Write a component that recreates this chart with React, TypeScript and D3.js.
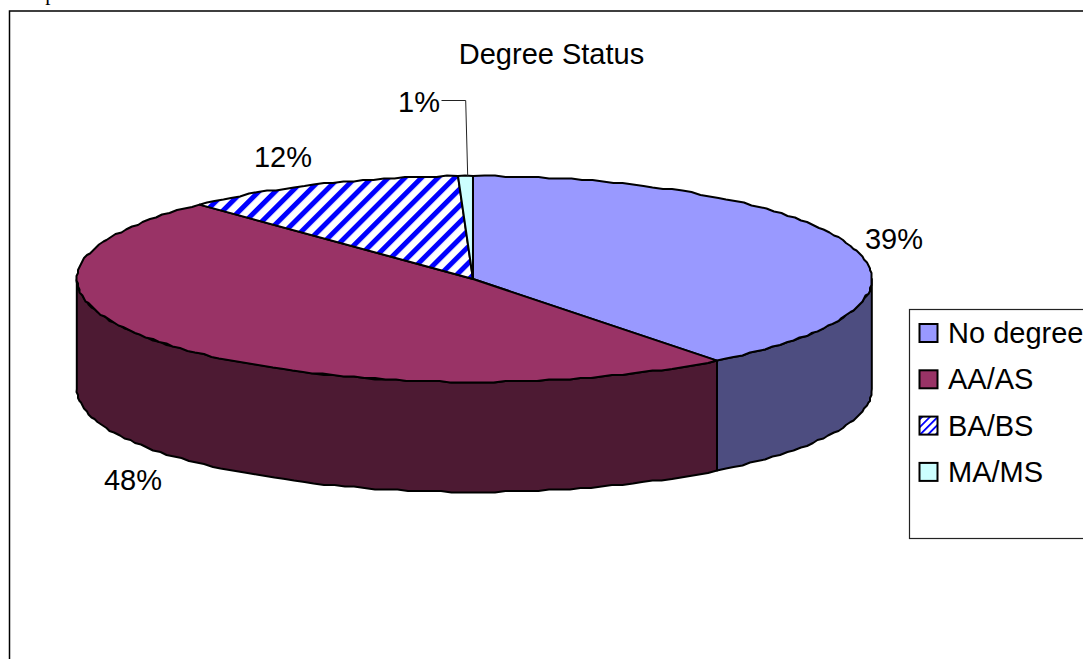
import React from "react";
import * as d3 from "d3";

const categories = ["No degree", "AA/AS", "BA/BS", "MA/MS"];
const shareValues = [39.6, 48.3, 11.5, 0.6];
const shareLabels = ["39%", "48%", "12%", "1%"];
const topColors = ["#9999ff", "#993366", "url(#stripes)", "#ccffff"];
const sideColors = ["#4d4d80", "#4d1a33", "#ffffff", "#668080"];
const labelSpots = [
  [894, 249],
  [133, 490],
  [283, 167],
  [419, 112],
];

const W = 1083, H = 659;
const cx = 474.3, cy = 279, rx = 397.5, ry = 103, depth = 110;
const tipX = 473;

const px = (a: number) => cx + rx * Math.sin(a);
const py = (a: number) => cy - ry * Math.cos(a);

// The reference's rim is a slightly scalloped polyline.
const snap = (v: number, step: number) => Math.round(v / step) * step;

function arcPoints(a0: number, a1: number, dy = 0): [number, number][] {
  const n = Math.max(2, Math.ceil(Math.abs(a1 - a0) * 36));
  return d3.range(n + 1).map((i) => {
    const a = a0 + ((a1 - a0) * i) / n;
    const end = i === 0 || i === n;
    return [end ? px(a) : snap(px(a), 1.5), (end ? py(a) : snap(py(a), 1.5)) + dy] as [number, number];
  });
}

export default function App() {
  const slices = d3.pie<number>().sort(null).startAngle(-0.0033).endAngle(2 * Math.PI - 0.0033)(shareValues);
  const line = d3.line();
  const font = "'Liberation Sans', Arial, sans-serif";
  return (
    <svg
      width={W}
      height={H}
      style={{ position: "absolute", left: 0, top: 0, background: "#fff" }}
      fontFamily={font}
    >
      <defs>
        <pattern id="stripes" width="11.7" height="11.7" patternUnits="userSpaceOnUse" patternTransform="rotate(45)">
          <rect width="11.7" height="11.7" fill="#fff" />
          <rect x="0" width="5" height="11.7" fill="#0000ff" />
        </pattern>
        <pattern id="stripesSmall" width="5.5" height="5.5" patternUnits="userSpaceOnUse" patternTransform="rotate(45)">
          <rect width="5.5" height="5.5" fill="#fff" />
          <rect width="1.8" height="5.5" fill="#0000ff" />
        </pattern>
      </defs>
      <text x={2} y={0} fontFamily="'Liberation Serif', serif" fontSize={21} fill="#000">Group</text>
      <rect x={9.5} y={11} width={1200} height={800} fill="#fff" stroke="#000" strokeWidth={1.5} />
      <text x={551.5} y={64} textAnchor="middle" fontSize={29}>Degree Status</text>

      {slices.map((s, i) => {
        const a0 = Math.max(s.startAngle, Math.PI / 2);
        const a1 = Math.min(s.endAngle, (3 * Math.PI) / 2);
        if (a1 <= a0) return null;
        const pts = [...arcPoints(a0, a1), ...arcPoints(a1, a0, depth)];
        return <path key={i} d={line(pts) + "Z"} fill={sideColors[i]} stroke="#000" strokeWidth={2} strokeLinejoin="round" />;
      })}
      {slices.map((s, i) => {
        const pts: [number, number][] = [[tipX, cy], ...arcPoints(s.startAngle, s.endAngle)];
        return <path key={i} d={line(pts) + "Z"} fill={topColors[i]} stroke="#000" strokeWidth={2} strokeLinejoin="round" />;
      })}

      <polyline points="441.5,100.5 465.7,100.5 467.7,176" fill="none" stroke="#222" strokeWidth={1} />

      {shareLabels.map((t, i) => (
        <text key={t} x={labelSpots[i][0]} y={labelSpots[i][1]} textAnchor="middle" fontSize={29}>{t}</text>
      ))}

      <rect x={909.5} y={309.5} width={300} height={229} fill="#fff" stroke="#222" strokeWidth={1.2} />
      {categories.map((c, i) => {
        const mid = 333 + i * 46.3;
        return (
          <g key={c}>
            <rect
              x={919.5} y={mid - 9} width={18} height={18}
              fill={i === 2 ? "url(#stripesSmall)" : topColors[i]}
              stroke="#000" strokeWidth={2}
            />
            <text x={948} y={mid + 10} fontSize={29}>{c}</text>
          </g>
        );
      })}
    </svg>
  );
}
